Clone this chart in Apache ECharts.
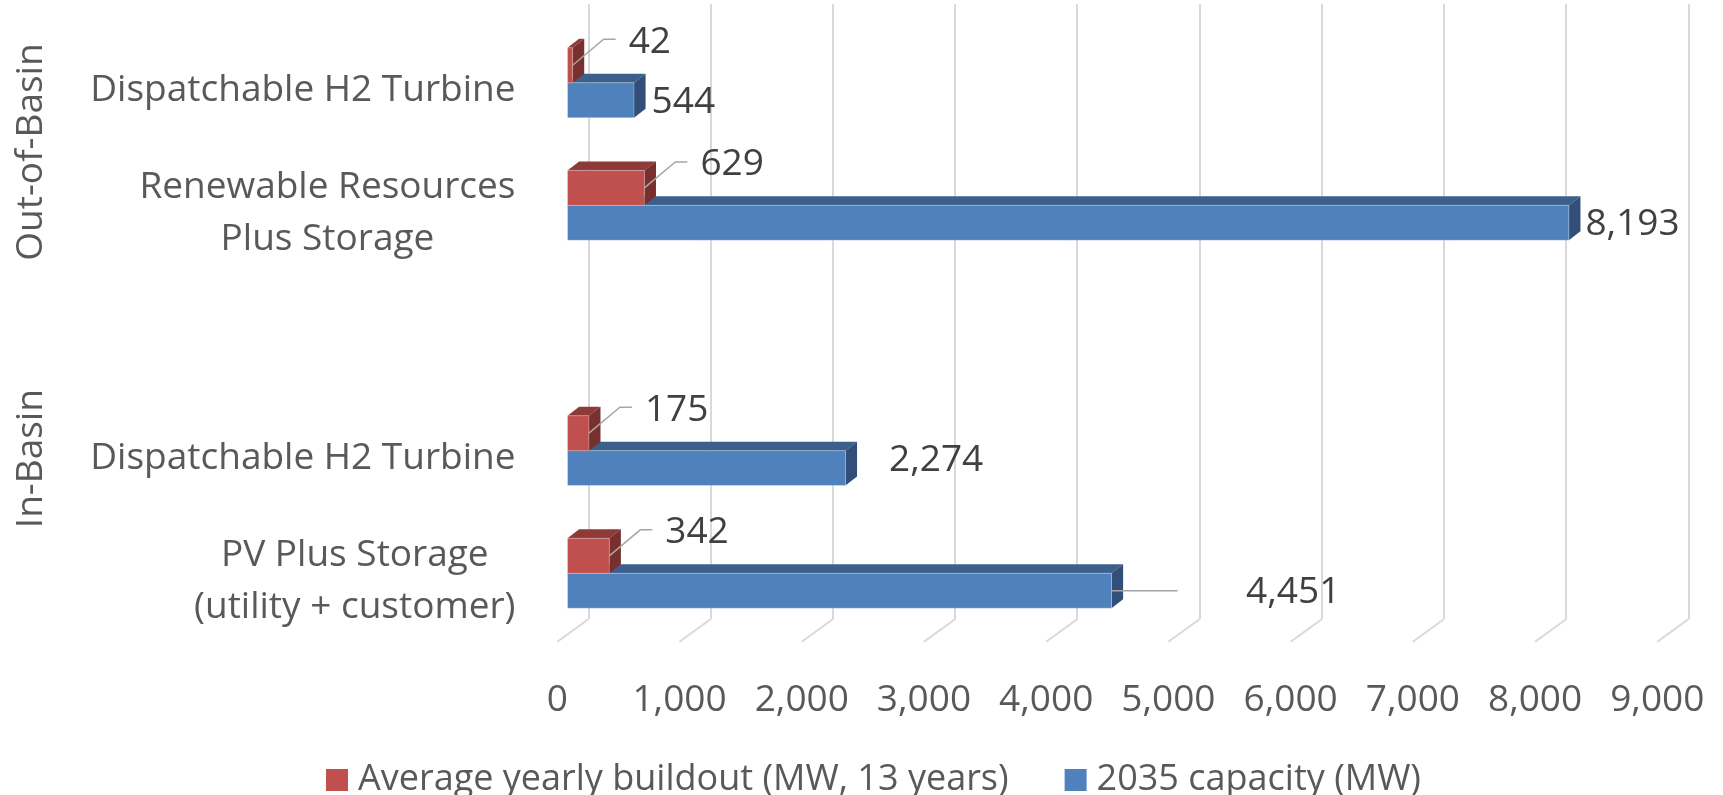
<!DOCTYPE html>
<html>
<head>
<meta charset="utf-8">
<script src="https://cdn.jsdelivr.net/npm/echarts@6/dist/echarts.min.js"></script>
<style>
  html, body { margin: 0; padding: 0; background: #fff; }
  #chart { width: 1723px; height: 795px; }
</style>
</head>
<body>
<div id="chart"></div>
<script>
// 数据
const categories = [
    'Dispatchable H2 Turbine',
    'Renewable Resources\nPlus Storage',
    '',
    'Dispatchable H2 Turbine',
    'PV Plus Storage\n(utility + customer)'
];
const buildout = [42, 629, null, 175, 342];
const capacity = [544, 8193, null, 2274, 4451];
const groupNames = ['Out-of-Basin', 'In-Basin'];
const groupSpans = [[0, 1], [2, 4]];
const xTicks = [0, 1000, 2000, 3000, 4000, 5000, 6000, 7000, 8000, 9000];
const seriesNames = ['Average yearly buildout (MW, 13 years)', '2035 capacity (MW)'];

(function () {
    const myChart = echarts.init(document.getElementById('chart'))
    const FONT = 'Open Sans'
    const DEPTH = [11.6, 9]     // 柱子厚度
    const FLOOR = [-31, 22.4]   // 地面斜线
    const fmt = v => v.toLocaleString('en-US')

    // 蓝色标签的手动偏移（Excel里拖过的），按类目序号
    const capLabelShift = [[6, 2], [5, 2], null, [32, -8], [123, 2]]

    function box(x0, x1, y0, y1, colors) {
        const [dx, dy] = DEPTH
        return [
            {
                type: 'polygon',
                shape: { points: [[x0, y0], [x1, y0], [x1 + dx, y0 - dy], [x0 + dx, y0 - dy]] },
                style: { fill: colors.top }
            },
            {
                type: 'polygon',
                shape: { points: [[x1, y0], [x1, y1], [x1 + dx, y1 - dy], [x1 + dx, y0 - dy]] },
                style: { fill: colors.side }
            },
            {
                type: 'rect',
                shape: { x: x0, y: y0, width: x1 - x0, height: y1 - y0 },
                style: { fill: colors.front, stroke: colors.edge, lineWidth: 1 }
            }
        ]
    }

    function valueText(text, x, y) {
        return {
            type: 'text',
            x: x, y: y,
            style: {
                text: text, fill: '#404040', fontSize: 37, fontFamily: FONT,
                align: 'left', verticalAlign: 'middle'
            }
        }
    }

    function leader(points) {
        return {
            type: 'polyline',
            shape: { points: points },
            style: { stroke: '#a6a6a6', lineWidth: 1.5, fill: null }
        }
    }

    function renderRed(params, api) {
        const v = api.value(0), c = api.value(1)
        const o = api.coord([0, c]), e = api.coord([v, c])
        const h = api.size([0, 1])[1] * 0.285
        const y0 = o[1] - h, y1 = o[1]
        const mid = (y0 + y1) / 2
        const children = box(o[0], e[0], y0, y1, {
            front: '#c0504d', top: '#8e3a38', side: '#77302e', edge: 'rgba(255,255,255,0.25)'
        })
        children.push(leader([[e[0], mid], [e[0] + 31, mid - 26], [e[0] + 43, mid - 26]]))
        children.push(valueText(fmt(v), e[0] + 56, mid - 23))
        return { type: 'group', children: children }
    }

    function renderBlue(params, api) {
        const v = api.value(0), c = api.value(1)
        const o = api.coord([0, c]), e = api.coord([v, c])
        const h = api.size([0, 1])[1] * 0.285
        const y0 = o[1], y1 = o[1] + h
        const mid = (y0 + y1) / 2
        const children = box(o[0], e[0], y0, y1, {
            front: '#4f81bd', top: '#3c5f8b', side: '#314f78', edge: 'rgba(255,255,255,0.3)'
        })
        const shift = capLabelShift[c] || [6, 2]
        const sideEnd = e[0] + DEPTH[0]
        if (shift[0] > 60) {
            children.push(leader([[e[0], mid], [e[0] + 66, mid]]))
        }
        children.push(valueText(fmt(v), sideEnd + shift[0], mid + shift[1]))
        return { type: 'group', children: children }
    }

    function renderFloor(params, api) {
        const p = api.coord([api.value(0), 0])
        return {
            type: 'line',
            shape: { x1: p[0], y1: p[1], x2: p[0] + FLOOR[0], y2: p[1] + FLOOR[1] },
            style: { stroke: '#d9d9d9', lineWidth: 2 }
        }
    }

    function renderGroup(params, api) {
        const a = api.coord([0, api.value(1)]), b = api.coord([0, api.value(2)])
        return {
            type: 'text',
            x: 31, y: (a[1] + b[1]) / 2 + 8,
            rotation: Math.PI / 2,
            style: {
                text: groupNames[params.dataIndex], fill: '#595959', fontSize: 37, fontFamily: FONT,
                align: 'center', verticalAlign: 'middle'
            }
        }
    }

    const hiddenAxis = {
        axisLine: { show: false }, axisTick: { show: false },
        axisLabel: { show: false }, splitLine: { show: false }
    }

    const option = {
        animation: false,
        backgroundColor: '#fff',
        grid: [
            // 柱子所在的前平面
            { left: 567.5, top: 21.4, width: 1100, height: 613.2, outerBoundsMode: 'none' },
            // 背景墙
            { left: 588.3, top: 4, width: 1100, height: 615.3, outerBoundsMode: 'none' },
            // 地面前沿（刻度标签）
            { left: 557.3, top: 640.7, width: 1100, height: 1, outerBoundsMode: 'none' }
        ],
        legend: {
            data: seriesNames,
            left: 321,
            top: 757,
            icon: 'rect',
            itemWidth: 22,
            itemHeight: 22,
            itemGap: 56,
            textStyle: { color: '#595959', fontSize: 36, fontFamily: FONT, padding: [0, 0, 0, 5] }
        },
        xAxis: [
            Object.assign({ type: 'value', gridIndex: 0, min: 0, max: 9000, interval: 1000 }, hiddenAxis),
            {
                type: 'value', gridIndex: 1, min: 0, max: 9000, interval: 1000,
                axisLine: { show: false }, axisTick: { show: false }, axisLabel: { show: false },
                splitLine: { show: true, lineStyle: { color: '#d9d9d9', width: 2 } }
            },
            {
                type: 'value', gridIndex: 2, min: 0, max: 9000, interval: 1000,
                axisLine: { show: false }, axisTick: { show: false }, splitLine: { show: false },
                axisLabel: {
                    margin: 40, color: '#595959', fontSize: 37, fontFamily: FONT,
                    formatter: v => fmt(v)
                }
            }
        ],
        yAxis: [
            {
                type: 'category', gridIndex: 0, inverse: true, data: categories,
                axisLine: { show: false }, axisTick: { show: false }, splitLine: { show: false },
                axisLabel: {
                    interval: 0,
                    margin: 52,
                    padding: [16, 0, 0, 0],
                    formatter: v => v.split('\n').map(l => '{a|' + l + '}').join('\n'),
                    rich: {
                        a: { align: 'center', color: '#595959', fontSize: 37, fontFamily: FONT, lineHeight: 52 }
                    }
                }
            },
            Object.assign({ type: 'value', gridIndex: 1, min: 0, max: 1 }, hiddenAxis),
            Object.assign({ type: 'value', gridIndex: 2, min: 0, max: 1 }, hiddenAxis)
        ],
        series: [
            {
                name: 'floor',
                type: 'custom',
                xAxisIndex: 1, yAxisIndex: 1,
                clip: false, silent: true,
                renderItem: renderFloor,
                data: xTicks.map(v => [v, 0])
            },
            {
                name: seriesNames[1],
                type: 'custom',
                xAxisIndex: 0, yAxisIndex: 0,
                clip: false,
                itemStyle: { color: '#4f81bd' },
                encode: { x: 0, y: 1 },
                renderItem: renderBlue,
                data: capacity.map((v, i) => [v, i]).filter(d => d[0] != null)
            },
            {
                name: seriesNames[0],
                type: 'custom',
                xAxisIndex: 0, yAxisIndex: 0,
                clip: false,
                itemStyle: { color: '#c0504d' },
                encode: { x: 0, y: 1 },
                renderItem: renderRed,
                data: buildout.map((v, i) => [v, i]).filter(d => d[0] != null)
            },
            {
                name: 'groups',
                type: 'custom',
                xAxisIndex: 0, yAxisIndex: 0,
                clip: false, silent: true,
                encode: { x: 0, y: 1 },
                renderItem: renderGroup,
                data: groupSpans.map(s => [0, s[0], s[1]])
            }
        ]
    };
    myChart.setOption(option);
    window.addEventListener('resize', () => {
        myChart.resize();
    })
})();
</script>
</body>
</html>
